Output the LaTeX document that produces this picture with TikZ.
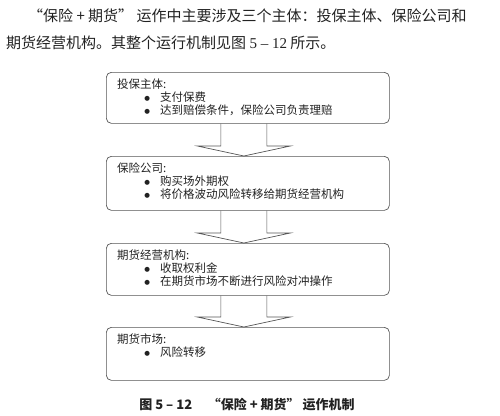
\documentclass[tikz,border=0pt]{standalone}
\usepackage{fontspec}
\setmainfont{Liberation Serif}
\newfontfamily\cjk{Noto Sans CJK SC}
\newfontfamily\djv{DejaVu Sans}
\usetikzlibrary{calc}
\definecolor{linegray}{HTML}{555555}
\definecolor{ink}{HTML}{222222}
\begin{document}
\begin{tikzpicture}[x=1pt,y=-1pt,
  box/.style={draw=linegray, line width=0.7pt, rounded corners=5pt,
    minimum width=283pt, anchor=north west, inner sep=0pt},
  boxtext/.style={anchor=north west, inner sep=0pt, align=left, text=ink,
    font=\cjk\fontsize{11.5}{12.7}\selectfont},
  intro/.style={anchor=west, inner sep=0pt, text=ink,
    font=\cjk\fontsize{15}{18}\selectfont},
  arr/.style={draw=linegray, line width=0.7pt, line join=miter}]
\useasboundingbox (0,0) rectangle (500,415);
\newcommand\bul{\makebox[43pt][l]{\hspace*{30pt}\makebox[0pt]{\raisebox{1.2pt}{\djv\fontsize{6.5}{7}\selectfont ●}}}}
% intro
\node[intro] (p1) at (28,16) {“保险 + 期货” 运作中主要涉及三个主体：投保主体、保险公司和};
\node[intro] (p2) at (6,43) {期货经营机构。其整个运行机制见图 {\rmfamily 5 – 12} 所示。};
% boxes
\node[box, minimum height=51pt] (b1) at (106,72) {};
\node[box, minimum height=54pt] (b2) at (106,156) {};
\node[box, minimum height=52pt] (b3) at (106,243) {};
\node[box, minimum height=53pt] (b4) at (106,327) {};
\node[boxtext] (t1) at ($(b1.north west)+(11,7)$) {投保主体:\\ \bul 支付保费\\ \bul 达到赔偿条件，保险公司负责理赔};
\node[boxtext] (t2) at ($(b2.north west)+(11,7)$) {保险公司:\\ \bul 购买场外期权\\ \bul 将价格波动风险转移给期货经营机构};
\node[boxtext] (t3) at ($(b3.north west)+(11,7)$) {期货经营机构:\\ \bul 收取权利金\\ \bul 在期货市场不断进行风险对冲操作};
\node[boxtext] (t4) at ($(b4.north west)+(11,7)$) {期货市场:\\ \bul 风险转移};
% arrows
\foreach \a/\b in {b1/b2,b2/b3,b3/b4}{
  \draw[arr] ($(\a.south)+(-27,0)$) -- ($(\b.north)+(-27,-10)$)
    -- ($(\b.north)+(-50.5,-10)$) -- ($(\b.north)+(-4,0)$)
    -- ($(\b.north)+(42.5,-10)$) -- ($(\b.north)+(19,-10)$)
    -- ($(\a.south)+(19,0)$);
}
% caption
\node[anchor=center, inner sep=0pt, text=ink, font=\cjk\bfseries\fontsize{13}{15}\selectfont] (cap) at (247,405) {图 5 – 12\hspace{1.2em}“保险 + 期货” 运作机制};
\end{tikzpicture}
\end{document}
